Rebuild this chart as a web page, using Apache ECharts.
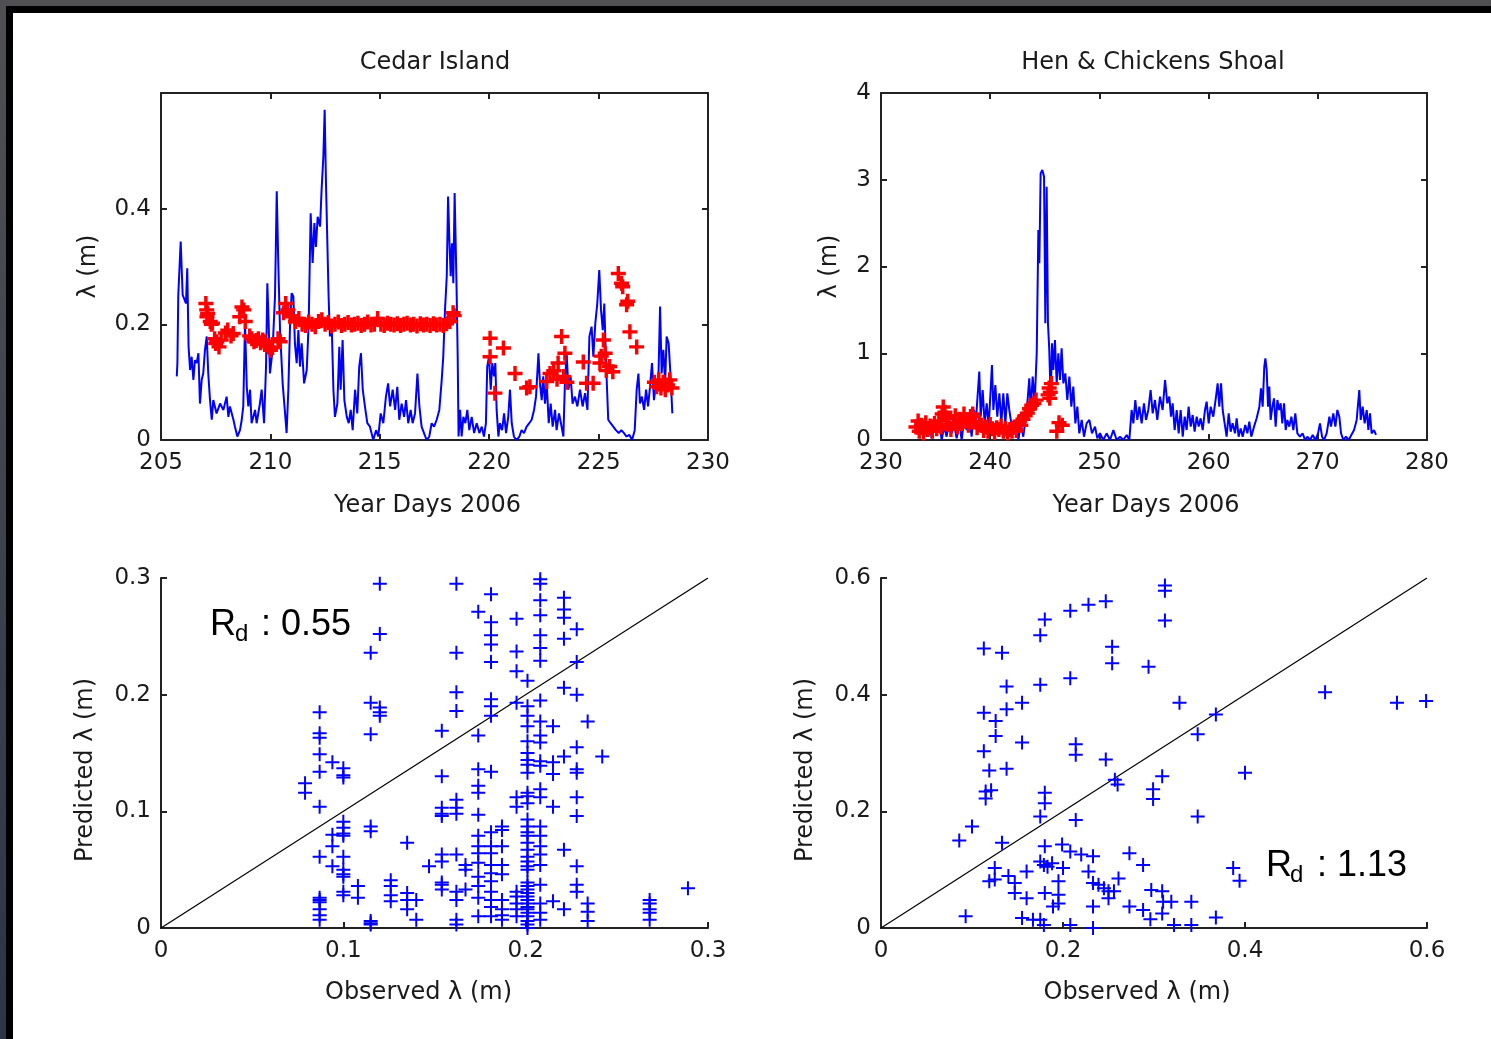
<!DOCTYPE html>
<html>
<head>
<meta charset="utf-8">
<title>Cedar Island / Hen & Chickens Shoal</title>
<script src="https://cdn.jsdelivr.net/npm/echarts@6/dist/echarts.min.js"></script>
<style>
  html, body { margin: 0; padding: 0; width: 1491px; height: 1039px; overflow: hidden;
    background: linear-gradient(to bottom, #505053, #2b3548); }
  #frame { position: absolute; left: 6px; top: 6px; right: 0; bottom: 0;
    border-left: 7px solid #000; border-top: 7px solid #000; background: #fff; }
  #main { position: absolute; left: 0; top: 0; width: 1491px; height: 1039px; }
</style>
</head>
<body>
<div id="frame"></div>
<div id="main"></div>
<script>
// Cedar Island: modelled lambda (blue) and observed (red), [year day, m]
const cedarModel = [
  [205.72,0.110],[205.75,0.133],[205.79,0.251],[205.90,0.343],[205.99,0.251],[206.05,0.254],[206.14,0.236],[206.20,0.297],
  [206.26,0.161],[206.33,0.121],[206.40,0.144],[206.48,0.104],[206.55,0.138],[206.63,0.133],[206.71,0.150],[206.78,0.063],
  [206.86,0.104],[206.93,0.115],[207.01,0.156],[207.09,0.179],[207.16,0.115],[207.24,0.069],[207.32,0.035],[207.39,0.069],
  [207.54,0.046],[207.70,0.063],[207.85,0.052],[208.00,0.075],[208.08,0.040],[208.15,0.058],[208.31,0.035],[208.38,0.023],
  [208.49,0.006],[208.61,0.017],[208.69,0.035],[208.76,0.058],[208.84,0.202],[208.92,0.092],[208.99,0.058],[209.07,0.087],
  [209.14,0.029],[209.30,0.052],[209.37,0.029],[209.52,0.063],[209.60,0.087],[209.71,0.029],[209.80,0.127],[209.86,0.271],
  [209.92,0.202],[209.98,0.115],[210.10,0.156],[210.21,0.248],[210.29,0.430],[210.36,0.306],[210.44,0.190],[210.56,0.098],
  [210.67,0.046],[210.74,0.012],[210.82,0.087],[210.90,0.202],[210.97,0.254],[211.05,0.248],[211.12,0.167],[211.20,0.133],
  [211.28,0.190],[211.35,0.127],[211.43,0.167],[211.54,0.098],[211.66,0.121],[211.75,0.202],[211.84,0.392],[211.93,0.306],
  [212.01,0.375],[212.08,0.334],[212.16,0.386],[212.27,0.369],[212.34,0.433],[212.42,0.490],[212.48,0.571],[212.54,0.444],
  [212.60,0.346],[212.66,0.248],[212.72,0.179],[212.80,0.202],[212.88,0.087],[212.95,0.040],[213.06,0.063],[213.15,0.161],
  [213.21,0.087],[213.30,0.173],[213.38,0.069],[213.49,0.040],[213.58,0.029],[213.67,0.052],[213.76,0.017],[213.87,0.087],
  [213.97,0.046],[214.06,0.127],[214.14,0.150],[214.22,0.087],[214.32,0.058],[214.43,0.029],[214.55,0.023],[214.70,0.000],
  [214.83,0.017],[214.93,0.006],[215.04,0.046],[215.16,0.029],[215.28,0.075],[215.38,0.098],[215.47,0.058],[215.59,0.087],
  [215.70,0.052],[215.80,0.092],[215.89,0.035],[216.00,0.063],[216.11,0.040],[216.20,0.069],[216.30,0.029],[216.41,0.052],
  [216.50,0.029],[216.61,0.046],[216.72,0.115],[216.81,0.058],[216.91,0.023],[217.02,0.012],[217.14,0.000],[217.26,0.006],
  [217.37,0.029],[217.48,0.023],[217.60,0.035],[217.72,0.052],[217.83,0.104],[217.90,0.144],[217.98,0.225],[218.06,0.283],
  [218.12,0.421],[218.18,0.346],[218.24,0.283],[218.30,0.340],[218.36,0.271],[218.42,0.427],[218.48,0.317],[218.51,0.260],
  [218.56,0.144],[218.60,0.006],[218.67,0.052],[218.74,0.006],[218.82,0.040],[218.91,0.029],[219.00,0.052],[219.09,0.017],
  [219.20,0.040],[219.31,0.012],[219.43,0.029],[219.55,0.012],[219.66,0.023],[219.76,0.006],[219.85,0.029],[219.91,0.127],
  [219.99,0.144],[220.07,0.087],[220.14,0.133],[220.22,0.110],[220.28,0.133],[220.34,0.052],[220.42,0.006],[220.49,0.029],
  [220.59,0.017],[220.68,0.046],[220.77,0.012],[220.87,0.040],[220.95,0.087],[221.03,0.029],[221.13,0.006],[221.25,0.000],
  [221.38,0.006],[221.48,0.017],[221.59,0.012],[221.71,0.023],[221.83,0.029],[221.94,0.035],[222.05,0.052],[222.14,0.075],
  [222.25,0.150],[222.32,0.098],[222.40,0.069],[222.47,0.110],[222.55,0.063],[222.63,0.098],[222.72,0.029],[222.81,0.063],
  [222.90,0.023],[223.01,0.052],[223.08,0.017],[223.19,0.046],[223.28,0.029],[223.39,0.006],[223.46,0.098],[223.54,0.150],
  [223.62,0.087],[223.72,0.110],[223.81,0.063],[223.92,0.075],[224.03,0.058],[224.15,0.087],[224.27,0.058],[224.38,0.081],
  [224.49,0.052],[224.58,0.179],[224.68,0.196],[224.76,0.144],[224.85,0.202],[224.94,0.236],[225.03,0.294],[225.11,0.225],
  [225.19,0.190],[225.26,0.236],[225.34,0.133],[225.44,0.035],[225.55,0.029],[225.67,0.023],[225.79,0.017],[225.92,0.012],
  [226.04,0.017],[226.16,0.012],[226.28,0.006],[226.40,0.009],[226.53,0.000],[226.65,0.017],[226.74,0.087],[226.82,0.115],
  [226.89,0.063],[226.98,0.075],[227.08,0.052],[227.17,0.087],[227.26,0.058],[227.35,0.092],[227.44,0.133],[227.53,0.069],
  [227.62,0.098],[227.72,0.087],[227.81,0.231],[227.88,0.115],[227.96,0.156],[228.04,0.098],[228.11,0.179],[228.20,0.167],
  [228.29,0.110],[228.37,0.046]
];
const cedarObs = [
  [207.05,0.236],[207.09,0.225],[207.10,0.213],[207.13,0.219],[207.25,0.205],[207.30,0.200],[207.35,0.202],
  [207.45,0.175],[207.50,0.167],[207.55,0.170],[207.65,0.161],[207.75,0.173],[207.95,0.185],[208.05,0.190],
  [208.20,0.180],[208.30,0.184],[208.60,0.213],[208.70,0.230],[208.78,0.225],[208.85,0.205],[209.05,0.180],
  [209.15,0.175],[209.25,0.170],[209.35,0.172],[209.45,0.175],[209.55,0.168],[209.65,0.173],[209.75,0.170],
  [209.90,0.161],[210.00,0.155],[210.10,0.160],[210.35,0.175],[210.45,0.170],[210.60,0.220],[210.70,0.236],
  [210.80,0.225],[210.90,0.213],[211.00,0.215],[211.15,0.205],[211.30,0.210],[211.45,0.200],[211.60,0.198],
  [211.75,0.204],[211.90,0.200],[212.05,0.196],[212.20,0.205],[212.35,0.208],[212.50,0.200],[212.65,0.203],
  [212.80,0.197],[212.95,0.200],[213.10,0.204],[213.25,0.198],[213.40,0.200],[213.55,0.203],[213.70,0.199],
  [213.85,0.200],[214.00,0.202],[214.15,0.198],[214.30,0.200],[214.45,0.204],[214.60,0.199],[214.75,0.200],
  [214.90,0.210],[215.05,0.200],[215.20,0.198],[215.35,0.202],[215.50,0.200],[215.65,0.199],[215.80,0.201],
  [215.95,0.198],[216.10,0.200],[216.25,0.202],[216.40,0.199],[216.55,0.200],[216.70,0.197],[216.85,0.201],
  [217.00,0.199],[217.15,0.200],[217.30,0.198],[217.45,0.201],[217.60,0.199],[217.75,0.200],[217.90,0.198],
  [218.05,0.201],[218.20,0.205],[218.35,0.220],[218.40,0.215],
  [220.04,0.176],[220.04,0.144],[220.26,0.081],[220.65,0.159],[221.18,0.115],[221.71,0.090],[221.86,0.092],
  [222.63,0.101],[222.78,0.115],[222.95,0.120],[223.10,0.105],[223.15,0.133],[223.31,0.179],[223.46,0.150],
  [223.40,0.110],[223.55,0.100],[224.30,0.135],[224.45,0.098],[224.75,0.098],[225.06,0.133],[225.12,0.145],
  [225.22,0.173],[225.30,0.150],[225.35,0.120],[225.50,0.127],[225.65,0.118],[225.90,0.288],[226.05,0.271],
  [226.10,0.265],[226.28,0.234],[226.33,0.240],[226.43,0.187],[226.74,0.161],[227.55,0.100],[227.65,0.092],
  [227.75,0.104],[227.85,0.090],[227.95,0.100],[228.05,0.087],[228.15,0.095],[228.25,0.104],[228.35,0.090]
];

// Hen & Chickens Shoal: modelled (blue) and observed (red), [year day, m]
const henModel = [
  [233.72,0.154],[233.88,0.000],[234.03,0.231],[234.18,0.038],[234.43,0.192],[234.64,0.019],[234.85,0.231],[235.10,0.077],
  [235.34,0.192],[235.56,0.000],[235.77,0.154],[236.01,0.038],[236.26,0.231],[236.47,0.077],[236.68,0.192],[236.93,0.019],
  [237.17,0.192],[237.39,0.000],[237.60,0.231],[237.84,0.115],[238.09,0.269],[238.30,0.038],[238.52,0.346],[238.67,0.192],
  [238.82,0.461],[239.00,0.788],[239.13,0.269],[239.31,0.576],[239.49,0.192],[239.68,0.423],[239.86,0.154],[240.04,0.576],
  [240.16,0.865],[240.29,0.346],[240.47,0.634],[240.65,0.269],[240.84,0.538],[241.02,0.192],[241.20,0.538],[241.39,0.192],
  [241.57,0.538],[241.75,0.346],[241.93,0.192],[242.12,0.077],[242.36,0.231],[242.58,0.000],[242.79,0.192],[243.03,0.038],
  [243.22,0.231],[243.40,0.423],[243.58,0.711],[243.71,0.346],[243.89,0.730],[244.07,0.423],[244.26,1.000],[244.41,2.421],
  [244.50,2.037],[244.62,3.074],[244.77,3.112],[244.93,3.036],[245.05,1.345],[245.17,2.920],[245.29,1.345],[245.41,1.038],
  [245.54,0.461],[245.66,1.114],[245.78,0.807],[245.93,1.153],[246.09,0.653],[246.24,1.000],[246.39,0.692],[246.54,1.057],
  [246.70,0.653],[246.88,0.768],[247.06,0.461],[247.25,0.730],[247.43,0.384],[247.61,0.615],[247.80,0.192],[247.98,0.384],
  [248.16,0.077],[248.38,0.231],[248.59,0.038],[248.83,0.192],[249.08,0.231],[249.32,0.077],[249.60,0.154],[249.81,0.019],
  [250.05,0.077],[250.36,0.000],[250.66,0.077],[250.97,0.000],[251.28,0.115],[251.58,0.000],[251.89,0.038],[252.19,0.000],
  [252.50,0.058],[252.74,0.000],[252.95,0.346],[253.11,0.192],[253.29,0.461],[253.47,0.231],[253.66,0.384],[253.87,0.192],
  [254.08,0.423],[254.27,0.231],[254.48,0.346],[254.69,0.576],[254.88,0.307],[255.09,0.461],[255.30,0.231],[255.55,0.500],
  [255.79,0.346],[256.01,0.692],[256.22,0.423],[256.40,0.500],[256.56,0.269],[256.71,0.423],[256.89,0.115],[257.08,0.346],
  [257.26,0.077],[257.44,0.346],[257.63,0.038],[257.81,0.269],[257.99,0.115],[258.17,0.384],[258.36,0.154],[258.54,0.288],
  [258.72,0.096],[258.91,0.269],[259.09,0.154],[259.27,0.250],[259.46,0.115],[259.67,0.346],[259.82,0.442],[260.01,0.192],
  [260.19,0.384],[260.43,0.269],[260.68,0.500],[260.83,0.653],[260.98,0.384],[261.14,0.653],[261.29,0.346],[261.47,0.192],
  [261.65,0.038],[261.84,0.307],[262.02,0.096],[262.20,0.192],[262.42,0.077],[262.57,0.250],[262.75,0.038],[262.94,0.134],
  [263.12,0.038],[263.36,0.173],[263.55,0.077],[263.73,0.211],[263.91,0.038],[264.16,0.154],[264.40,0.250],[264.65,0.384],
  [264.80,0.596],[264.95,0.384],[265.10,0.845],[265.20,0.941],[265.32,0.807],[265.44,0.384],[265.56,0.615],[265.68,0.231],
  [265.84,0.384],[265.99,0.480],[266.14,0.154],[266.30,0.461],[266.45,0.346],[266.60,0.423],[266.75,0.192],[266.91,0.423],
  [267.06,0.115],[267.21,0.231],[267.39,0.154],[267.58,0.269],[267.76,0.115],[267.94,0.307],[268.13,0.077],[268.37,0.038],
  [268.61,0.077],[268.83,0.000],[269.04,0.038],[269.29,0.000],[269.53,0.058],[269.78,0.000],[270.02,0.077],[270.20,0.192],
  [270.39,0.038],[270.57,0.000],[270.81,0.077],[271.06,0.269],[271.21,0.154],[271.42,0.307],[271.61,0.154],[271.79,0.346],
  [271.97,0.269],[272.13,0.077],[272.34,0.000],[272.58,0.038],[272.83,0.000],[273.07,0.058],[273.32,0.115],[273.56,0.231],
  [273.80,0.576],[273.93,0.231],[274.11,0.384],[274.29,0.192],[274.48,0.346],[274.63,0.115],[274.78,0.307],[274.93,0.077],
  [275.15,0.115],[275.33,0.058]
];
const henObs = [
  [233.2,0.15],[233.4,0.22],[233.5,0.10],[233.7,0.17],[233.9,0.08],[234.1,0.20],[234.3,0.12],[234.5,0.16],
  [234.7,0.10],[234.9,0.19],[235.1,0.13],[235.3,0.22],[235.5,0.15],[235.6,0.30],[235.7,0.38],[235.85,0.32],
  [236.0,0.25],[236.2,0.18],[236.4,0.12],[236.6,0.20],[236.8,0.28],[237.0,0.15],[237.2,0.24],[237.4,0.19],
  [237.6,0.30],[237.8,0.22],[238.0,0.17],[238.2,0.27],[238.4,0.30],[238.6,0.21],[238.8,0.14],[239.0,0.20],
  [239.2,0.17],[239.4,0.11],[239.6,0.15],[239.8,0.10],[240.0,0.18],[240.2,0.13],[240.4,0.09],[240.6,0.14],
  [240.8,0.12],[241.0,0.16],[241.2,0.10],[241.4,0.13],[241.6,0.08],[241.8,0.12],[242.0,0.10],[242.2,0.15],
  [242.4,0.11],[242.6,0.20],[242.8,0.17],[243.0,0.24],[243.2,0.28],[243.4,0.31],[243.6,0.36],[243.8,0.40],
  [244.0,0.42],[244.2,0.46],[245.3,0.52],[245.4,0.60],[245.5,0.55],[245.6,0.65],[245.45,0.48],
  [246.1,0.10],[246.3,0.20],[246.6,0.17]
];

// Scatter: [observed, predicted] (m)
const cedarScatter = [
  [0.079,0.124],[0.079,0.116],
  [0.087,0.185],[0.087,0.167],[0.087,0.163],[0.087,0.149],[0.087,0.134],[0.087,0.104],[0.087,0.061],[0.087,0.026],
  [0.087,0.024],[0.087,0.022],[0.087,0.016],[0.087,0.011],[0.087,0.007],
  [0.094,0.142],[0.094,0.080],[0.094,0.070],[0.094,0.053],
  [0.100,0.137],[0.100,0.131],[0.100,0.129],[0.100,0.091],[0.100,0.086],[0.100,0.081],[0.100,0.079],[0.100,0.061],
  [0.100,0.050],[0.100,0.046],[0.100,0.044],[0.100,0.031],[0.100,0.028],
  [0.108,0.036],[0.108,0.026],
  [0.115,0.236],[0.115,0.193],[0.115,0.166],[0.115,0.087],[0.115,0.083],[0.115,0.006],[0.115,0.004],[0.115,0.003],
  [0.120,0.295],[0.120,0.252],[0.120,0.189],[0.120,0.185],[0.120,0.182],
  [0.126,0.041],[0.126,0.036],[0.126,0.028],[0.126,0.023],
  [0.135,0.073],[0.135,0.030],[0.135,0.024],[0.135,0.016],
  [0.140,0.024],[0.140,0.007],[0.147,0.053],
  [0.154,0.169],[0.154,0.130],[0.154,0.103],[0.154,0.098],[0.154,0.096],[0.154,0.063],[0.154,0.057],[0.154,0.039],
  [0.154,0.037],[0.154,0.033],
  [0.162,0.295],[0.162,0.236],[0.162,0.202],[0.162,0.186],[0.162,0.110],[0.162,0.103],[0.162,0.098],[0.162,0.063],
  [0.162,0.031],[0.162,0.024],[0.162,0.007],[0.162,0.003],
  [0.167,0.054],[0.167,0.050],[0.167,0.033],
  [0.174,0.271],[0.174,0.165],[0.174,0.136],[0.174,0.122],[0.174,0.116],[0.174,0.097],[0.174,0.079],[0.174,0.070],
  [0.174,0.064],[0.174,0.056],[0.174,0.044],[0.174,0.036],[0.174,0.026],[0.174,0.010],
  [0.181,0.286],[0.181,0.262],[0.181,0.251],[0.181,0.243],[0.181,0.228],[0.181,0.196],[0.181,0.190],[0.181,0.182],
  [0.181,0.134],[0.181,0.082],[0.181,0.070],[0.181,0.064],[0.181,0.054],[0.181,0.047],[0.181,0.040],[0.181,0.031],
  [0.181,0.024],[0.181,0.018],[0.181,0.010],
  [0.187,0.087],[0.187,0.084],[0.187,0.070],[0.187,0.054],[0.187,0.046],[0.187,0.024],[0.187,0.016],[0.187,0.011],
  [0.187,0.007],
  [0.195,0.265],[0.195,0.237],[0.195,0.220],[0.195,0.193],[0.195,0.112],[0.195,0.104],[0.195,0.031],[0.195,0.027],
  [0.195,0.021],[0.195,0.016],[0.195,0.010],
  [0.201,0.212],[0.201,0.190],[0.201,0.182],[0.201,0.173],[0.201,0.160],[0.201,0.150],[0.201,0.144],[0.201,0.140],
  [0.201,0.133],[0.201,0.116],[0.201,0.113],[0.201,0.107],[0.201,0.093],[0.201,0.087],[0.201,0.082],[0.201,0.079],
  [0.201,0.073],[0.201,0.067],[0.201,0.061],[0.201,0.057],[0.201,0.053],[0.201,0.050],[0.201,0.039],[0.201,0.036],
  [0.201,0.033],[0.201,0.030],[0.201,0.027],[0.201,0.024],[0.201,0.021],[0.201,0.018],[0.201,0.016],[0.201,0.013],
  [0.201,0.010],[0.201,0.006],[0.201,0.003],[0.201,0.000],
  [0.208,0.299],[0.208,0.295],[0.208,0.281],[0.208,0.268],[0.208,0.251],[0.208,0.240],[0.208,0.229],[0.208,0.195],
  [0.208,0.177],[0.208,0.165],[0.208,0.159],[0.208,0.143],[0.208,0.139],[0.208,0.119],[0.208,0.112],[0.208,0.087],
  [0.208,0.079],[0.208,0.070],[0.208,0.063],[0.208,0.054],[0.208,0.037],[0.208,0.021],[0.208,0.013],[0.208,0.007],
  [0.215,0.173],[0.215,0.142],[0.215,0.132],[0.215,0.104],[0.215,0.023],
  [0.221,0.283],[0.221,0.273],[0.221,0.266],[0.221,0.248],[0.221,0.206],[0.221,0.147],[0.221,0.067],[0.221,0.016],
  [0.228,0.256],[0.228,0.228],[0.228,0.200],[0.228,0.155],[0.228,0.136],[0.228,0.133],[0.228,0.112],[0.228,0.096],
  [0.228,0.053],[0.228,0.037],[0.228,0.031],
  [0.234,0.177],[0.234,0.021],[0.234,0.014],[0.234,0.006],
  [0.242,0.147],
  [0.268,0.024],[0.268,0.021],[0.268,0.016],[0.268,0.013],[0.268,0.007],
  [0.289,0.034]
];
const henScatter = [
  [0.113,0.479],[0.133,0.472],[0.175,0.502],[0.180,0.529],[0.208,0.544],[0.228,0.554],[0.247,0.560],[0.254,0.482],
  [0.254,0.454],[0.294,0.448],[0.138,0.414],[0.175,0.417],[0.208,0.428],[0.155,0.386],[0.113,0.369],[0.138,0.375],
  [0.126,0.355],[0.126,0.329],[0.155,0.318],[0.113,0.303],[0.214,0.315],[0.214,0.297],[0.247,0.289],[0.119,0.270],
  [0.138,0.273],[0.115,0.234],[0.121,0.236],[0.115,0.222],[0.180,0.232],[0.180,0.214],[0.175,0.191],[0.214,0.185],
  [0.257,0.254],[0.260,0.246],[0.100,0.174],[0.086,0.150],[0.133,0.146],[0.180,0.140],[0.199,0.143],[0.208,0.131],
  [0.220,0.126],[0.233,0.123],[0.273,0.128],[0.288,0.108],[0.125,0.103],[0.125,0.083],[0.119,0.080],[0.140,0.089],
  [0.147,0.077],[0.147,0.060],[0.160,0.097],[0.160,0.051],[0.175,0.114],[0.179,0.108],[0.183,0.105],[0.188,0.111],
  [0.180,0.060],[0.189,0.037],[0.195,0.080],[0.195,0.057],[0.195,0.042],[0.200,0.103],[0.228,0.097],[0.233,0.077],
  [0.239,0.074],[0.245,0.068],[0.250,0.063],[0.256,0.063],[0.250,0.051],[0.261,0.085],[0.233,0.037],[0.273,0.037],
  [0.288,0.031],[0.093,0.020],[0.155,0.017],[0.167,0.014],[0.175,0.014],[0.179,0.005],[0.208,0.005],[0.233,0.000],
  [0.297,0.065],[0.296,0.015],
  [0.312,0.587],[0.312,0.578],[0.312,0.527],[0.328,0.386],[0.368,0.366],[0.348,0.332],[0.488,0.404],[0.567,0.386],
  [0.599,0.389],[0.309,0.260],[0.299,0.238],[0.299,0.221],[0.400,0.266],[0.348,0.191],[0.387,0.103],[0.394,0.081],
  [0.309,0.063],[0.310,0.045],[0.319,0.045],[0.341,0.045],[0.309,0.025],[0.322,0.005],[0.341,0.005],[0.368,0.018]
];

// 1:1 reference lines
const cedarDiag = [[0, 0], [0.3, 0.3]];
const henDiag = [[0, 0], [0.6, 0.6]];

const titles = ['Cedar Island', 'Hen & Chickens Shoal'];
const rdCedar = '0.55';
const rdHen = '1.13';

const chart = echarts.init(document.getElementById('main'));

const FONT = 'DejaVu Sans';
const INK = '#1a1a1a';
const PLUS = 'path://M-1,-7H1V-1H7V1H1V7H-1V1H-7V-1H-1Z';
const PLUS_BOLD = 'path://M-1.6,-7H1.6V-1.6H7V1.6H1.6V7H-1.6V1.6H-7V-1.6H-1.6Z';

const axisBase = (extra) => Object.assign({
  type: 'value',
  axisLine: { show: true, onZero: false, lineStyle: { color: '#222', width: 2 } },
  axisTick: { show: true, inside: true, length: 6, lineStyle: { color: '#222', width: 2 } },
  splitLine: { show: false },
  axisLabel: { color: INK, fontFamily: FONT, fontSize: 23, margin: 12 },
  nameLocation: 'middle',
  nameTextStyle: { color: INK, fontFamily: FONT, fontSize: 24 }
}, extra);

const mirror = (extra) => axisBase(Object.assign({ axisLabel: { show: false } }, extra));

const nameStyle = (pad) => ({ color: INK, fontFamily: FONT, fontSize: 24, padding: [0, pad, 0, 0] });

const option = {
  animation: false,
  title: [
    { text: titles[0], left: 430, top: 46, textAlign: 'center',
      textStyle: { color: INK, fontFamily: FONT, fontSize: 24, fontWeight: 'normal' } },
    { text: titles[1], left: 1148, top: 46, textAlign: 'center',
      textStyle: { color: INK, fontFamily: FONT, fontSize: 24, fontWeight: 'normal' } }
  ],
  grid: [
    { left: 161, top: 93, width: 547, height: 347 },
    { left: 881, top: 93, width: 546, height: 347 },
    { left: 161, top: 578, width: 547, height: 350 },
    { left: 881, top: 578, width: 546, height: 350 }
  ],
  xAxis: [
    axisBase({ gridIndex: 0, min: 205, max: 230, interval: 5, name: 'Year Days 2006', nameGap: 54,
      nameTextStyle: nameStyle(14) }),
    mirror({ gridIndex: 0, position: 'top', min: 205, max: 230, interval: 5 }),
    axisBase({ gridIndex: 1, min: 230, max: 280, interval: 10, name: 'Year Days 2006', nameGap: 54,
      nameTextStyle: nameStyle(16) }),
    mirror({ gridIndex: 1, position: 'top', min: 230, max: 280, interval: 10 }),
    axisBase({ gridIndex: 2, min: 0, max: 0.3, interval: 0.1, name: 'Observed λ (m)', nameGap: 53,
      nameTextStyle: nameStyle(32) }),
    axisBase({ gridIndex: 3, min: 0, max: 0.6, interval: 0.2, name: 'Observed λ (m)', nameGap: 53,
      nameTextStyle: nameStyle(34) })
  ],
  yAxis: [
    axisBase({ gridIndex: 0, min: 0, max: 0.6, interval: 0.2, name: 'λ (m)', nameGap: 60,
      axisLabel: { color: INK, fontFamily: FONT, fontSize: 23, margin: 10, showMaxLabel: false } }),
    mirror({ gridIndex: 0, position: 'right', min: 0, max: 0.6, interval: 0.2 }),
    axisBase({ gridIndex: 1, min: 0, max: 4, interval: 1, name: 'λ (m)', nameGap: 39,
      axisLabel: { color: INK, fontFamily: FONT, fontSize: 23, margin: 10 } }),
    mirror({ gridIndex: 1, position: 'right', min: 0, max: 4, interval: 1 }),
    axisBase({ gridIndex: 2, min: 0, max: 0.3, interval: 0.1, name: 'Predicted λ (m)', nameGap: 63,
      axisLabel: { color: INK, fontFamily: FONT, fontSize: 23, margin: 10 }, nameTextStyle: nameStyle(34) }),
    axisBase({ gridIndex: 3, min: 0, max: 0.6, interval: 0.2, name: 'Predicted λ (m)', nameGap: 63,
      axisLabel: { color: INK, fontFamily: FONT, fontSize: 23, margin: 10 }, nameTextStyle: nameStyle(34) })
  ],
  series: [
    { type: 'line', xAxisIndex: 0, yAxisIndex: 0, data: cedarModel, showSymbol: false,
      lineStyle: { color: '#0000ff', width: 2 }, z: 2 },
    { type: 'scatter', xAxisIndex: 0, yAxisIndex: 0, data: cedarObs, symbol: PLUS_BOLD, symbolSize: 15,
      itemStyle: { color: '#ff0000', opacity: 1 }, z: 3 },
    { type: 'line', xAxisIndex: 2, yAxisIndex: 2, data: henModel, showSymbol: false,
      lineStyle: { color: '#0000ff', width: 2 }, z: 2 },
    { type: 'scatter', xAxisIndex: 2, yAxisIndex: 2, data: henObs, symbol: PLUS_BOLD, symbolSize: 15,
      itemStyle: { color: '#ff0000', opacity: 1 }, z: 3 },
    { type: 'scatter', xAxisIndex: 4, yAxisIndex: 4, data: cedarScatter, symbol: PLUS, symbolSize: 14,
      itemStyle: { color: '#0000ff', opacity: 1 }, z: 3 },
    { type: 'line', xAxisIndex: 4, yAxisIndex: 4, data: cedarDiag, showSymbol: false,
      lineStyle: { color: '#000', width: 1.2 }, z: 2 },
    { type: 'scatter', xAxisIndex: 5, yAxisIndex: 5, data: henScatter, symbol: PLUS, symbolSize: 14,
      itemStyle: { color: '#0000ff', opacity: 1 }, z: 3 },
    { type: 'line', xAxisIndex: 5, yAxisIndex: 5, data: henDiag, showSymbol: false,
      lineStyle: { color: '#000', width: 1.2 }, z: 2 }
  ],
  graphic: [
    { type: 'text', left: 210, top: 607, z: 10,
      style: { text: 'R', font: '36px "Liberation Sans"', fill: '#000' } },
    { type: 'text', left: 235, top: 622, z: 10,
      style: { text: 'd', font: '24px "Liberation Sans"', fill: '#000' } },
    { type: 'text', left: 261, top: 607, z: 10,
      style: { text: ': ' + rdCedar, font: '36px "Liberation Sans"', fill: '#000' } },
    { type: 'text', left: 1266, top: 848, z: 10,
      style: { text: 'R', font: '36px "Liberation Sans"', fill: '#000' } },
    { type: 'text', left: 1290, top: 863, z: 10,
      style: { text: 'd', font: '24px "Liberation Sans"', fill: '#000' } },
    { type: 'text', left: 1317, top: 848, z: 10,
      style: { text: ': ' + rdHen, font: '36px "Liberation Sans"', fill: '#000' } }
  ]
};

chart.setOption(option);
</script>
</body>
</html>
